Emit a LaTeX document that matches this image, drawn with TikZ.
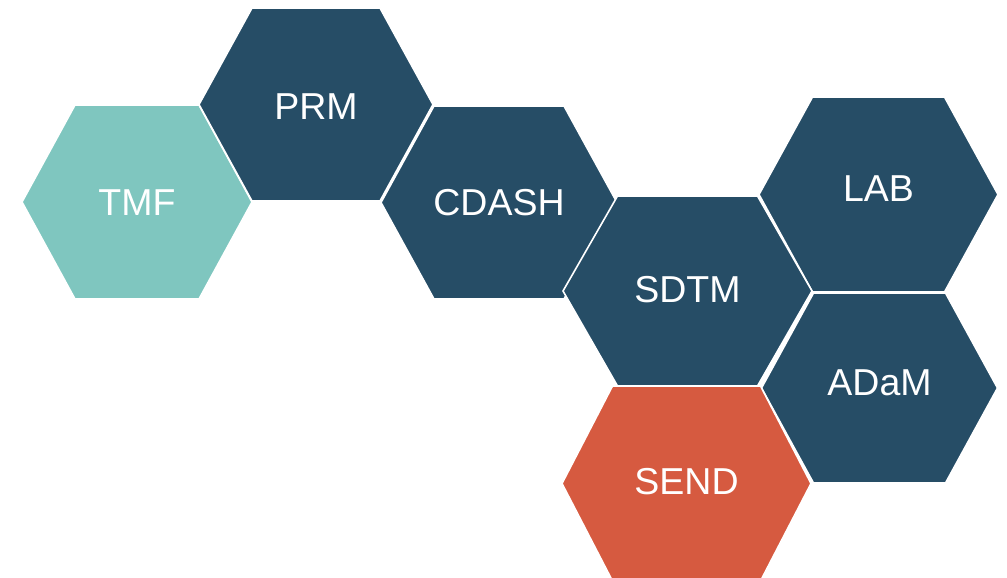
\documentclass[tikz,border=0pt]{standalone}
\usepackage{fontspec}
\setmainfont{Liberation Sans}
\definecolor{hexblue}{RGB}{38,77,102}
\definecolor{hexteal}{RGB}{127,198,191}
\definecolor{hexorange}{RGB}{214,90,64}
\newcommand{\hexcell}[9]{%
  % #1 name, #2 cx, #3 cy, #4 half width, #5 half height, #6 half top edge, #7 colour, #8 text, #9 text y
  \path[hexshape,fill=#7] (#2-#4,#3) -- (#2-#6,#3-#5) -- (#2+#6,#3-#5) -- (#2+#4,#3) -- (#2+#6,#3+#5) -- (#2-#6,#3+#5) -- cycle;
  \node[hexlabel] (#1) at (#2,#9) {#8};
}
\begin{document}
\begin{tikzpicture}[x=1pt,y=-1pt,
  hexshape/.style={draw=white,line width=1.6pt,line join=miter},
  hexlabel/.style={text=white,font=\fontsize{37.5}{40}\selectfont,inner sep=0pt}]
\useasboundingbox[fill=white] (0,0) rectangle (1007,578);
\clip (0,0) rectangle (1007,578);
\hexcell{tmf}{137}{202}{115}{97}{62}{hexteal}{TMF}{203}
\hexcell{prm}{316}{104.5}{117}{96.5}{64}{hexblue}{PRM}{107}
\hexcell{cdash}{499}{202.5}{118}{96.5}{65}{hexblue}{CDASH}{203}
\hexcell{lab}{878.5}{194.5}{119.5}{97.5}{66}{hexblue}{LAB}{189}
\hexcell{sdtm}{687.5}{291}{124.5}{95}{70}{hexblue}{SDTM}{290}
\hexcell{adam}{879.5}{388}{118}{95}{66}{hexblue}{ADaM}{383}
\hexcell{send}{686.5}{483.5}{124.5}{97.5}{74}{hexorange}{SEND}{482}
\end{tikzpicture}
\end{document}
